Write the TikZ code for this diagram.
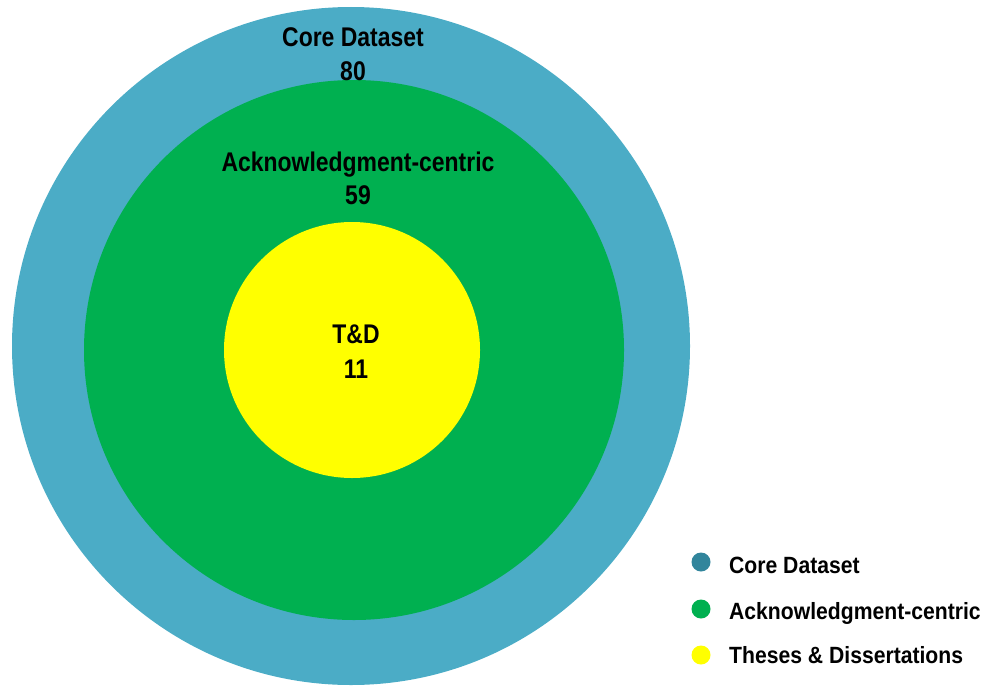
\documentclass[tikz,border=0pt]{standalone}
\usepackage{fontspec}
\setmainfont{Liberation Sans}
\newfontfamily\headfont[FakeStretch=0.85]{Liberation Sans Bold}
\newfontfamily\legfont[FakeStretch=0.9]{Liberation Sans Bold}
\definecolor{coreblue}{HTML}{4BACC6}
\definecolor{legblue}{HTML}{31859C}
\definecolor{ackgreen}{HTML}{00B050}
\definecolor{tdyellow}{HTML}{FFFF00}
\tikzset{
  ring/.style={draw=none},
  headtxt/.style={anchor=base, inner sep=0pt, font=\headfont\fontsize{27}{33}\selectfont, text=black},
  legtxt/.style={anchor=base west, inner sep=0pt, font=\legfont\fontsize{23.5}{28}\selectfont, text=black},
  legdot/.style={circle, draw=none, minimum size=19pt, inner sep=0pt}
}
\begin{document}
\begin{tikzpicture}[x=1pt,y=-1pt]
\useasboundingbox (0,0) rectangle (987,685);
\fill[coreblue] (351,346) circle[radius=339];
\fill[ackgreen] (354,350) circle[radius=270];
\fill[tdyellow] (352,350) circle[radius=128];
\node[headtxt] (corelbl) at (353,47) {Core Dataset};
\node[headtxt] (corenum) at (353,80) {80};
\node[headtxt] (acklbl) at (358,171) {Acknowledgment-centric};
\node[headtxt] (acknum) at (358,204) {59};
\node[headtxt] (tdlbl) at (356,343) {T\&D};
\node[headtxt] (tdnum) at (356,378) {11};
\node[legdot, fill=legblue] (d1) at (701,562) {};
\node[legdot, fill=ackgreen] (d2) at (701,609) {};
\node[legdot, fill=tdyellow] (d3) at (701,655) {};
\node[legtxt] (l1) at (729,573) {Core Dataset};
\node[legtxt] (l2) at (729,619) {Acknowledgment-centric};
\node[legtxt] (l3) at (729,663) {Theses \& Dissertations};
\end{tikzpicture}
\end{document}
